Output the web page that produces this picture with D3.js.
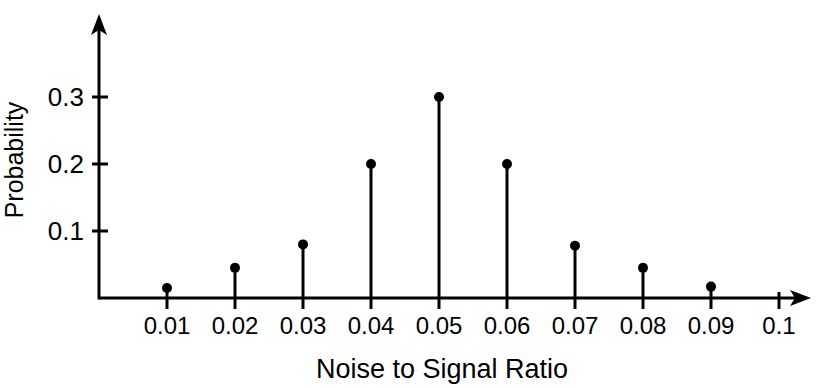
<!DOCTYPE html>
<html>
<head>
<meta charset="utf-8">
<script src="https://cdn.jsdelivr.net/npm/d3@7"></script>
<style>
  body { margin: 0; background: #fff; }
  svg text { font-family: "Liberation Sans", Arial, Helvetica, sans-serif; fill: #000; }
</style>
</head>
<body>
<svg id="chart" width="830" height="388"></svg>
<script>
const ratios = [0.01, 0.02, 0.03, 0.04, 0.05, 0.06, 0.07, 0.08, 0.09];
const probs = [0.015, 0.045, 0.08, 0.2, 0.3, 0.2, 0.078, 0.045, 0.017];
const xTicks = [0.01, 0.02, 0.03, 0.04, 0.05, 0.06, 0.07, 0.08, 0.09, 0.1];
const yTicks = [0.1, 0.2, 0.3];

const svg = d3.select("#chart");
const x = d3.scaleLinear().domain([0, 0.1]).range([99, 779]);
const y = d3.scaleLinear().domain([0, 0.3]).range([298, 97]);
const ink = "#000";

// axes lines
svg.append("line").attr("x1", x(0)).attr("x2", 795)
  .attr("y1", y(0)).attr("y2", y(0)).attr("stroke", ink).attr("stroke-width", 3);
svg.append("line").attr("x1", x(0)).attr("x2", x(0))
  .attr("y1", y(0) + 1.5).attr("y2", 30).attr("stroke", ink).attr("stroke-width", 3);

// arrow heads
svg.append("path")
  .attr("d", `M${x(0)},14 L${x(0) - 8},35 L${x(0)},30 L${x(0) + 8},35 Z`)
  .attr("fill", ink);
svg.append("path")
  .attr("d", `M811,${y(0)} L790,${y(0) - 8} L795,${y(0)} L790,${y(0) + 8} Z`)
  .attr("fill", ink);

// y ticks
svg.selectAll("line.ytick").data(yTicks).join("line")
  .attr("class", "ytick")
  .attr("x1", x(0) - 7).attr("x2", x(0) + 9)
  .attr("y1", d => y(d)).attr("y2", d => y(d))
  .attr("stroke", ink).attr("stroke-width", 3);
svg.selectAll("text.ylab").data(yTicks).join("text")
  .attr("class", "ylab")
  .attr("x", x(0) - 15).attr("y", d => y(d) + 9)
  .attr("text-anchor", "end").attr("font-size", 26)
  .text(d => d3.format(".1f")(d));

// x ticks
svg.selectAll("line.xtick").data(xTicks).join("line")
  .attr("class", "xtick")
  .attr("x1", d => x(d)).attr("x2", d => x(d))
  .attr("y1", d => d === 0.1 ? y(0) - 6 : y(0)).attr("y2", y(0) + 11)
  .attr("stroke", ink).attr("stroke-width", 3);
svg.selectAll("text.xlab").data(xTicks).join("text")
  .attr("class", "xlab")
  .attr("x", d => x(d)).attr("y", 334)
  .attr("text-anchor", "middle").attr("font-size", 24)
  .text(d => d === 0.1 ? "0.1" : d3.format(".2f")(d));

// stems
const pts = ratios.map((r, i) => ({r, p: probs[i]}));
svg.selectAll("line.stem").data(pts).join("line")
  .attr("class", "stem")
  .attr("x1", d => x(d.r)).attr("x2", d => x(d.r))
  .attr("y1", y(0)).attr("y2", d => y(d.p))
  .attr("stroke", ink).attr("stroke-width", 3);
svg.selectAll("circle.dot").data(pts).join("circle")
  .attr("class", "dot")
  .attr("cx", d => x(d.r)).attr("cy", d => y(d.p))
  .attr("r", 5).attr("fill", ink);

// axis titles
svg.append("text")
  .attr("x", 442).attr("y", 378)
  .attr("text-anchor", "middle").attr("font-size", 27)
  .text("Noise to Signal Ratio");
svg.append("text")
  .attr("transform", "translate(23,160) rotate(-90)")
  .attr("text-anchor", "middle").attr("font-size", 25)
  .text("Probability");
</script>
</body>
</html>
